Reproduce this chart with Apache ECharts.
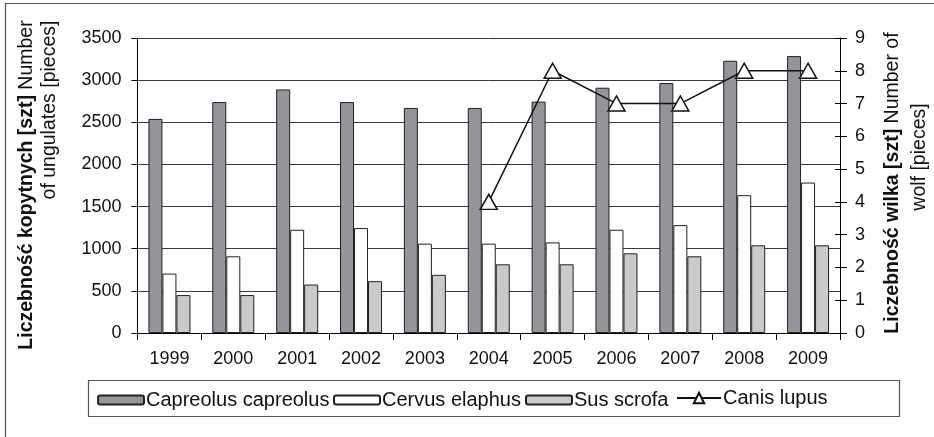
<!DOCTYPE html>
<html>
<head>
<meta charset="utf-8">
<script src="https://cdn.jsdelivr.net/npm/echarts@6/dist/echarts.min.js"></script>
<style>
html,body{margin:0;padding:0;background:#fff;}
#chart{width:934px;height:437px;}
</style>
</head>
<body>
<div id="chart"></div>
<script>
const years = ['1999','2000','2001','2002','2003','2004','2005','2006','2007','2008','2009'];
const capreolus = [2540, 2740, 2890, 2740, 2670, 2670, 2745, 2910, 2965, 3230, 3285];
const cervus = [705, 910, 1225, 1245, 1060, 1060, 1075, 1225, 1280, 1635, 1785];
const sus = [450, 450, 575, 615, 690, 815, 815, 945, 910, 1040, 1040];
const canis = [null, null, null, null, null, 4, 8, 7, 7, 8, 8];
const leftTicks = [0, 500, 1000, 1500, 2000, 2500, 3000, 3500];
const rightTicks = [0, 1, 2, 3, 4, 5, 6, 7, 8, 9];
const seriesNames = ['Capreolus capreolus', 'Cervus elaphus', 'Sus scrofa', 'Canis lupus'];

const FONT = '"Liberation Sans", Arial, sans-serif';
const chart = echarts.init(document.getElementById('chart'), null, {renderer: 'canvas'});

const barBorder = {borderColor: '#231f20', borderWidth: 1};
const legendText = {fontSize: 20, color: '#111', fontFamily: FONT, padding: [0, 0, 0, -3]};
function barLegend(name, left) {
  return {left: left, top: 390, itemWidth: 46, itemHeight: 9, padding: 0, textStyle: legendText, data: [name]};
}

const option = {
  animation: false,
  backgroundColor: '#fff',
  textStyle: {fontFamily: FONT, color: '#000'},
  grid: {left: 137.5, right: 94, top: 38, bottom: 104, containLabel: false},
  xAxis: [{
    type: 'category',
    data: years,
    boundaryGap: true,
    axisLine: {lineStyle: {color: '#000', width: 1}},
    axisTick: {show: true, length: 7, lineStyle: {color: '#000'}},
    axisLabel: {fontSize: 18, color: '#111', margin: 17, fontFamily: FONT},
    splitLine: {show: false}
  }],
  yAxis: [{
    type: 'value',
    min: leftTicks[0], max: leftTicks[leftTicks.length - 1], interval: 500,
    position: 'left',
    axisLine: {show: true, lineStyle: {color: '#000', width: 1}},
    axisTick: {show: true, length: 6, lineStyle: {color: '#000'}},
    axisLabel: {fontSize: 18, color: '#111', margin: 16, fontFamily: FONT, formatter: v => String(v)},
    splitLine: {show: true, lineStyle: {color: '#3a3a3a', width: 1}}
  }, {
    type: 'value',
    min: rightTicks[0], max: rightTicks[rightTicks.length - 1], interval: 1,
    position: 'right',
    axisLine: {show: true, lineStyle: {color: '#000', width: 1}},
    axisTick: {show: true, length: 7, lineStyle: {color: '#000'}},
    axisLabel: {fontSize: 18, color: '#111', margin: 15, fontFamily: FONT, formatter: v => String(v)},
    splitLine: {show: false}
  }, {
    type: 'value',
    min: rightTicks[0], max: rightTicks[rightTicks.length - 1], interval: 1,
    position: 'right',
    axisLine: {show: false},
    axisTick: {show: true, inside: true, length: 5, lineStyle: {color: '#000'}},
    axisLabel: {show: false},
    splitLine: {show: false}
  }],
  legend: [
    barLegend(seriesNames[0], 97),
    barLegend(seriesNames[1], 333),
    barLegend(seriesNames[2], 525),
    {left: 676, top: 388, itemWidth: 44, itemHeight: 13, padding: 0, textStyle: legendText, data: [seriesNames[3]]}
  ],
  series: [{
    name: seriesNames[0], type: 'bar', data: capreolus,
    barWidth: 14, barGap: '0%',
    itemStyle: Object.assign({color: '#939598'}, barBorder)
  }, {
    name: seriesNames[1], type: 'bar', data: cervus,
    barWidth: 14, barGap: '0%',
    itemStyle: Object.assign({color: '#ffffff'}, barBorder)
  }, {
    name: seriesNames[2], type: 'bar', data: sus,
    barWidth: 14, barGap: '0%',
    itemStyle: Object.assign({color: '#c9cacc'}, barBorder)
  }, {
    name: seriesNames[3], type: 'line', data: canis, yAxisIndex: 1,
    connectNulls: false,
    symbol: 'triangle', symbolSize: [17, 15],
    lineStyle: {color: '#111', width: 1.5},
    itemStyle: {color: '#fff', borderColor: '#111', borderWidth: 1.5},
    z: 5
  }],
  graphic: [
    {type: 'rect', shape: {x: 5.5, y: 3.5, width: 1000, height: 1000}, style: {fill: 'none', stroke: '#555', lineWidth: 1.2}, silent: true},
    {type: 'rect', shape: {x: 88.5, y: 380.5, width: 811, height: 36}, style: {fill: 'none', stroke: '#555', lineWidth: 1.2}, silent: true},
    {type: 'text', x: 27, y: 185, rotation: Math.PI / 2,
     style: {text: '{b|Liczebność kopytnych [szt]} Number', font: '19.5px ' + FONT, fill: '#111', align: 'center', verticalAlign: 'middle',
             rich: {b: {fontWeight: 'bold', fontSize: 19.5, fontFamily: FONT, fill: '#111'}}}},
    {type: 'text', x: 50, y: 110, rotation: Math.PI / 2,
     style: {text: 'of ungulates [pieces]', font: '19.5px ' + FONT, fill: '#111', align: 'center', verticalAlign: 'middle'}},
    {type: 'text', x: 893, y: 183, rotation: Math.PI / 2,
     style: {text: '{b|Liczebność wilka [szt]} Number of', font: '19.5px ' + FONT, fill: '#111', align: 'center', verticalAlign: 'middle',
             rich: {b: {fontWeight: 'bold', fontSize: 19.5, fontFamily: FONT, fill: '#111'}}}},
    {type: 'text', x: 920, y: 157, rotation: Math.PI / 2,
     style: {text: 'wolf [pieces]', font: '19.5px ' + FONT, fill: '#111', align: 'center', verticalAlign: 'middle'}}
  ]
};
chart.setOption(option);
</script>
</body>
</html>
